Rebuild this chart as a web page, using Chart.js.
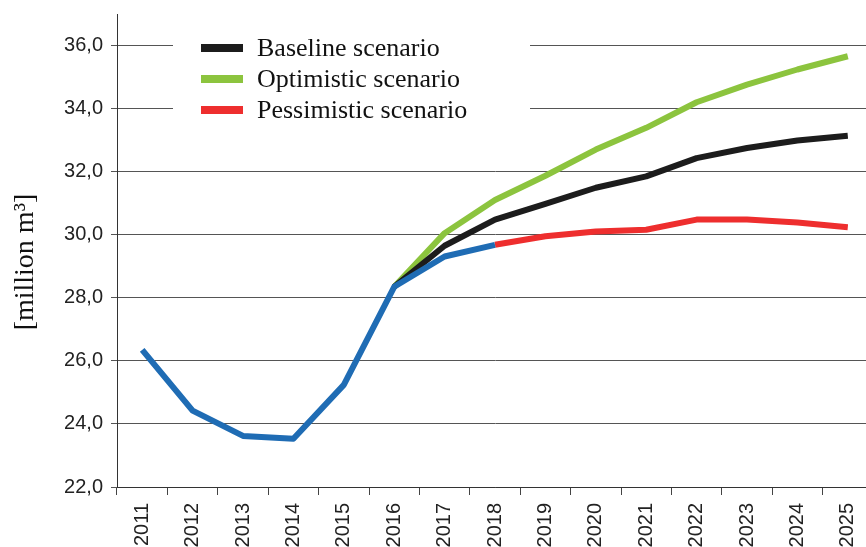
<!DOCTYPE html>
<html>
<head>
<meta charset="utf-8">
<script src="https://cdn.jsdelivr.net/npm/chart.js@4"></script>
<style>
  html, body { margin: 0; padding: 0; background: #fff; overflow: hidden; }
  #wrap { position: relative; width: 873px; height: 547px; }
</style>
</head>
<body>
<div id="wrap"><canvas id="c"></canvas></div>
<script>
// ---- data ----
const years = ['2011','2012','2013','2014','2015','2016','2017','2018','2019','2020','2021','2022','2023','2024','2025'];
const historical  = [26.35, 24.42, 23.62, 23.53, 25.24, 28.35, 29.31, 29.68, null, null, null, null, null, null, null];
const baseline    = [null, null, null, null, null, 28.35, 29.65, 30.48, 30.98, 31.49, 31.85, 32.43, 32.75, 32.99, 33.14];
const optimistic  = [null, null, null, null, null, 28.35, 30.05, 31.10, 31.87, 32.70, 33.39, 34.20, 34.76, 35.24, 35.66];
const pessimistic = [null, null, null, null, null, null, null, 29.68, 29.95, 30.10, 30.16, 30.48, 30.48, 30.39, 30.24];
const legendLabels = ['Baseline scenario', 'Optimistic scenario', 'Pessimistic scenario'];
const yTitle = '[million m\u00B3]';
const yMin = 22, yMax = 37, yStep = 2;

const COLORS = { blue: '#1f6cb4', black: '#1c1c1c', green: '#8cc43e', red: '#ee2e2e' };

const legendPlugin = {
  id: 'customLegend',
  beforeDatasetsDraw(chart) {
    const ctx = chart.ctx;
    ctx.save();
    ctx.fillStyle = '#ffffff';
    ctx.fillRect(173, 28, 357, 98);
    const items = [
      { label: legendLabels[0], color: COLORS.black },
      { label: legendLabels[1], color: COLORS.green },
      { label: legendLabels[2], color: COLORS.red }
    ];
    ctx.font = '26px "Liberation Serif", "Times New Roman", serif';
    ctx.textBaseline = 'middle';
    ctx.textAlign = 'left';
    items.forEach((it, i) => {
      const cy = 48 + i * 31;
      ctx.fillStyle = it.color;
      ctx.fillRect(201, cy - 4, 42, 8);
      ctx.fillStyle = '#111';
      ctx.fillText(it.label, 257, cy + 1);
    });
    ctx.restore();
  }
};

const yTitlePlugin = {
  id: 'yTitle',
  afterDraw(chart) {
    const ctx = chart.ctx;
    ctx.save();
    ctx.translate(26, 262);
    ctx.rotate(-Math.PI / 2);
    ctx.font = '28px "Liberation Serif", "Times New Roman", serif';
    ctx.fillStyle = '#111';
    ctx.textAlign = 'center';
    ctx.textBaseline = 'middle';
    ctx.fillText(yTitle, 0, 0);
    ctx.restore();
  }
};

const lineDs = (label, data, color) => ({
  label, data,
  borderColor: color, backgroundColor: color,
  borderWidth: 6, pointRadius: 0, pointHoverRadius: 0,
  tension: 0, spanGaps: false, fill: false,
  borderJoinStyle: 'round', borderCapStyle: 'butt'
});

new Chart(document.getElementById('c'), {
  type: 'line',
  data: {
    labels: years,
    datasets: [
      lineDs('Historical', historical, COLORS.blue),
      lineDs(legendLabels[0], baseline, COLORS.black),
      lineDs(legendLabels[2], pessimistic, COLORS.red),
      lineDs(legendLabels[1], optimistic, COLORS.green)
    ]
  },
  options: {
    responsive: true,
    maintainAspectRatio: false,
    animation: false,
    layout: { padding: { left: 0, top: 14, right: 0, bottom: 0 } },
    plugins: { legend: { display: false }, tooltip: { enabled: false } },
    scales: {
      x: {
        type: 'category',
        offset: true,
        grid: { offset: true, drawOnChartArea: false, drawTicks: true, tickLength: 8, color: '#444', lineWidth: 1 },
        border: { display: true, color: '#333', width: 1 },
        ticks: {
          minRotation: 90, maxRotation: 90, autoSkip: false, padding: 8,
          color: '#222', font: { family: '"Liberation Sans", Arial, sans-serif', size: 20 }
        },
        afterFit(scale) { scale.height = 60; scale.paddingLeft = 0; scale.paddingRight = 0; }
      },
      y: {
        min: yMin, max: yMax,
        grid: { color: '#555', lineWidth: 1, drawTicks: true, tickLength: 6 },
        border: { display: true, color: '#333', width: 1 },
        ticks: {
          stepSize: yStep, includeBounds: false, padding: 8,
          color: '#222', font: { family: '"Liberation Sans", Arial, sans-serif', size: 20 },
          callback: v => v.toFixed(1).replace('.', ',')
        },
        afterFit(scale) { scale.width = 117; scale.paddingTop = 0; scale.paddingBottom = 0; }
      }
    }
  },
  plugins: [legendPlugin, yTitlePlugin]
});
</script>
</body>
</html>
